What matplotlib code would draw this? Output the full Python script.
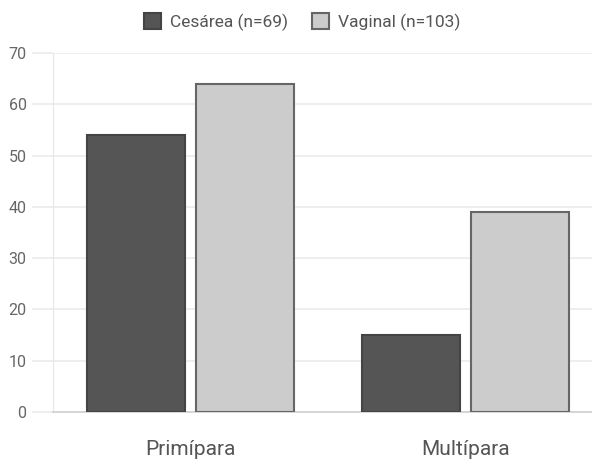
import matplotlib
matplotlib.use('Agg')
from matplotlib import pyplot as plt
import numpy as np

plt.rcParams['font.family'] = ['Roboto', 'DejaVu Sans']

categorias = ['Primípara', 'Multípara']
cesarea = [54, 15]
vaginal = [64, 39]
rotulos = ['Cesárea (n=69)', 'Vaginal (n=103)']

fig = plt.figure(figsize=(5.92, 4.61), dpi=100)
ax = fig.add_axes([53 / 592, 49 / 461, 1 - 53 / 592, 359 / 461])

x = np.arange(len(categorias))
w = 0.356
off = 0.198

ax.bar(x - off, cesarea, w, color='#555555', edgecolor='#444444', lw=1.5, label=rotulos[0], zorder=3)
ax.bar(x + off, vaginal, w, color='#cccccc', edgecolor='#666666', lw=1.5, label=rotulos[1], zorder=3)

ax.set_xlim(-0.498, 1.46)
ax.set_ylim(0, 70)
ax.set_yticks(range(0, 71, 10))
ax.set_xticks(x)
ax.set_xticklabels(categorias, fontsize=15, color='#555555')

ax.grid(axis='y', color='#ebebeb', lw=1.2, zorder=0)
ax.tick_params(axis='y', length=15, color='#ebebeb', width=1.2, labelsize=11.5, labelcolor='#666666', pad=4)
ax.tick_params(axis='x', length=0, pad=20)

for s in ['top', 'right']:
    ax.spines[s].set_visible(False)
ax.spines['left'].set_color('#e6e6e6')
ax.spines['bottom'].set_color('#d0d0d0')
ax.spines['bottom'].set_linewidth(1.2)

leg = fig.legend(loc='upper center', bbox_to_anchor=(0.51, 1.005), ncol=2, frameon=False,
                 fontsize=12.5, handlelength=1.0, handleheight=1.0, handletextpad=0.5,
                 columnspacing=1.4, labelcolor='#555555')

plt.savefig('out.png', dpi=100)
